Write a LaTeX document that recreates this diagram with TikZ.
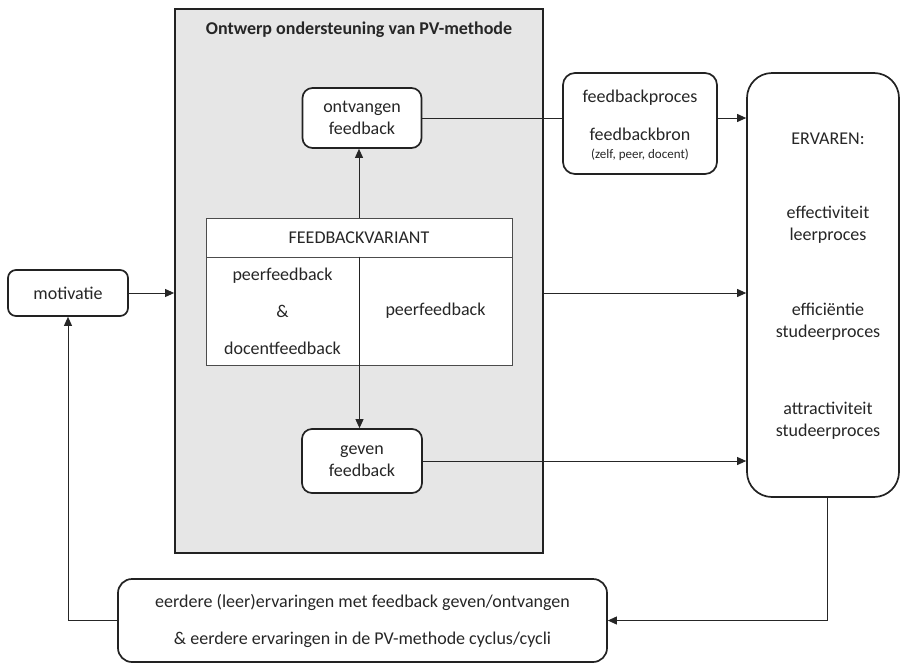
\documentclass[tikz,border=0pt]{standalone}
\usepackage{fontspec}
\setmainfont{Carlito}
\usetikzlibrary{arrows.meta}
\definecolor{pvgray}{HTML}{E6E6E6}
\definecolor{lineclr}{HTML}{222222}
\tikzset{
  every node/.style={font=\fontsize{18}{22}\selectfont, text=black!85},
  rbox/.style={draw=lineclr, line width=1.7pt, fill=white, rounded corners=10pt, align=center, inner sep=0pt},
  cell/.style={draw=black!70, line width=1pt, fill=white, align=center, inner sep=0pt},
  conn/.style={draw=black!85, line width=0.9pt},
  arr/.style={conn, -{Triangle[length=9pt,width=8pt]}},
  lbl/.style={align=center, inner sep=0pt}
}
\begin{document}
\begin{tikzpicture}[x=1pt,y=-1pt]
\useasboundingbox (0,0) rectangle (901,664);
% big grey block
\node[draw=lineclr, line width=1.8pt, fill=pvgray, minimum width=368pt, minimum height=544pt, inner sep=0pt] (pv) at (359,281) {};
\node[lbl, font=\fontsize{18}{22}\selectfont\bfseries] (title) at (359,30) {Ontwerp ondersteuning van PV-methode};
% inner boxes
\node[rbox, minimum width=119pt, minimum height=60pt] (ontv) at (362,118) {ontvangen\\feedback};
\node[rbox, minimum width=120pt, minimum height=64pt] (geven) at (362,461) {geven\\feedback};
% table
\node[cell, minimum width=306pt, minimum height=39pt] (hdr) at (359,237.5) {FEEDBACKVARIANT};
\node[cell, minimum width=153pt, minimum height=108pt] (lcell) at (282.5,311) {peerfeedback\\[15pt]\&\\[15pt]docentfeedback};
\node[cell, minimum width=153pt, minimum height=108pt] (rcell) at (435.5,311) {peerfeedback};
\draw[line width=1.6pt, lineclr] (lcell.north east) -- (lcell.south east);
% left and right boxes
\node[rbox, rounded corners=8pt, minimum width=120pt, minimum height=46pt] (mot) at (68,293) {motivatie};
\node[rbox, rounded corners=12pt, minimum width=154pt, minimum height=101pt] (fbp) at (640,123.5) {};
\node[lbl] (fbp1) at (640,98) {feedbackproces};
\node[lbl] (fbp2) at (640,134) {feedbackbron};
\node[lbl, font=\fontsize{13}{15}\selectfont] (fbp3) at (640,155) {(zelf, peer, docent)};
\node[rbox, rounded corners=25pt, minimum width=152pt, minimum height=424pt] (erv) at (823,285) {};
\node[lbl] (e0) at (828,139) {ERVAREN:};
\node[lbl] (e1) at (828,225) {effectiviteit\\leerproces};
\node[lbl] (e2) at (828,322) {efficiëntie\\studeerproces};
\node[lbl] (e3) at (828,421) {attractiviteit\\studeerproces};
% bottom box
\node[rbox, rounded corners=14pt, minimum width=489pt, minimum height=83pt] (eerd) at (362.5,620.5) {};
\node[lbl] (b1) at (362.5,602) {eerdere (leer)ervaringen met feedback geven/ontvangen};
\node[lbl] (b2) at (362.5,640) {\& eerdere ervaringen in de PV-methode cyclus/cycli};
% connectors
\draw[conn] (ontv.east) -- (ontv.east -| fbp.west);
\draw[arr] (ontv.east -| fbp.east) -- (ontv.east -| erv.west);
\draw[arr] (mot.east) -- (mot.east -| pv.west);
\draw[arr] (mot.east -| pv.east) -- (mot.east -| erv.west);
\draw[arr] (hdr.north) -- (hdr.north |- ontv.south);
\draw[arr] (lcell.south east) -- (lcell.south east |- geven.north);
\draw[arr] (geven.east) -- (geven.east -| erv.west);
\draw[arr] ([xshift=4pt]erv.south) |- (eerd.east);
\draw[arr] (eerd.west) -| (mot.south);
\end{tikzpicture}
\end{document}
